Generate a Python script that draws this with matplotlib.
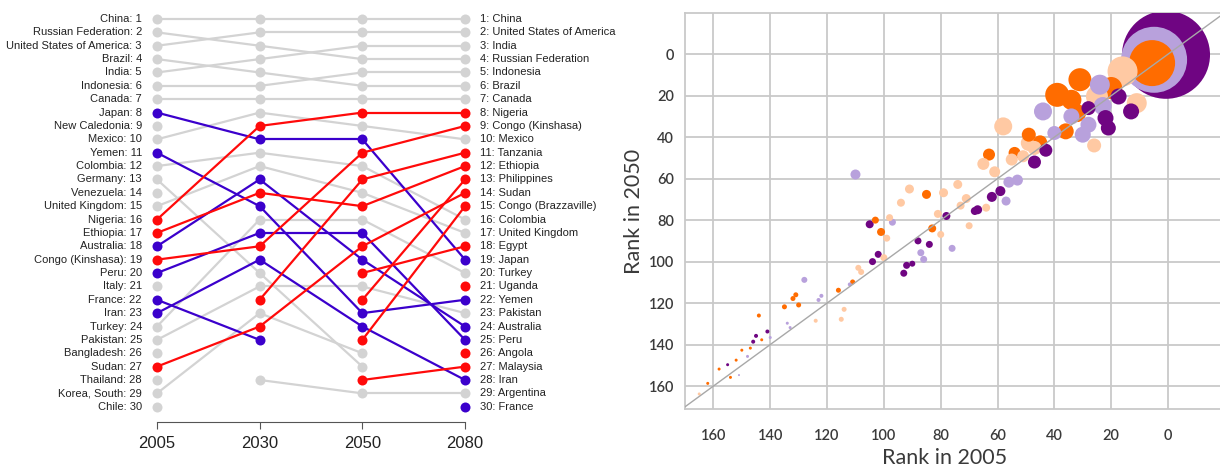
import numpy as np
import matplotlib
matplotlib.use("Agg")
import matplotlib.pyplot as plt

# ---------------- left panel data (bump chart) ----------------
years = ["2005", "2030", "2050", "2080"]

countries = [
    "China", "Russian Federation", "United States of America", "Brazil", "India",
    "Indonesia", "Canada", "Mexico", "Colombia", "United Kingdom", "Germany",
    "Turkey", "Pakistan", "Korea, South", "Argentina", "New Caledonia", "Venezuela",
    "Italy", "Bangladesh", "Thailand", "Chile",
    "Japan", "Yemen", "Australia", "Peru", "Iran", "France",
    "Nigeria", "Ethiopia", "Congo (Kinshasa)", "Sudan", "Tanzania", "Philippines",
    "Congo (Brazzaville)", "Egypt", "Malaysia", "Uganda", "Angola",
]
N = None
rank_2005 = [1, 2, 3, 4, 5, 6, 7, 10, 12, 15, 13, 24, 25, 29, N, 9, 14, 21, 26, 28, 30,
             8, 11, 18, 20, 23, 22, 16, 17, 19, 27, N, N, N, N, N, N, N]
rank_2030 = [1, 3, 2, 5, 4, 6, 7, 8, 11, 12, 20, 16, 21, 23, 28, N, N, N, N, N, N,
             10, 15, 13, 17, 19, 25, 9, 14, 18, 24, 22, N, N, N, N, N, N]
rank_2050 = [1, 4, 2, 6, 3, 5, 7, 9, 12, 14, 27, 16, 21, 26, 29, N, N, N, N, N, N,
             10, 23, 19, 17, 24, N, 8, 15, 11, 18, 13, 22, 25, 20, 28, N, N]
rank_2080 = [1, 4, 2, 6, 3, 5, 7, 10, 16, 17, N, 20, 23, N, 29, N, N, N, N, N, N,
             19, 22, 24, 25, 28, 30, 8, 12, 9, 14, 11, 13, 15, 18, 27, 21, 26]
trend = ["flat"] * 21 + ["down"] * 6 + ["up"] * 11

trend_colors = {"flat": "#d3d3d3", "down": "#3b00cc", "up": "#ff0a0a"}

# ---------------- right panel data (bubble scatter) ----------------
# (rank in 2005, rank in 2050, bubble value) per colour group
purple_2005 = [0.7, 17.4, 13, 28, 22, 21, 43, 47, 59, 62, 67, 68, 78, 105, 88, 84, 102, 104,
               92, 90, 93, 141, 145, 146, 155]
purple_2050 = [0.3, 20.4, 27.6, 26, 30.8, 35.6, 46.3, 52, 66, 68.8, 75, 75.6, 78, 82, 90,
               91.7, 96.5, 100, 101.8, 101, 105.6, 133.7, 135.8, 138.6, 149.7]
purple_val = [88, 16, 16, 14, 16, 15, 13, 13, 10, 10, 9, 8, 8, 8, 7, 7, 7, 7, 7, 6, 7, 4, 4, 4, 3]

lilac_2005 = [4.9, 24, 23, 34, 28, 44, 40, 30, 56, 53, 57, 110, 97, 87, 86, 76, 128, 112,
              122, 123, 134, 133, 140, 148, 151]
lilac_2050 = [2.7, 14.7, 25, 30, 34, 27.6, 38, 38.8, 61.7, 60.7, 70.8, 58, 81, 95.7, 98.9,
              93.6, 108.8, 111, 116.5, 118.5, 129.7, 131.8, 136.6, 145.7, 154.7]
lilac_val = [66, 20, 18, 16, 16, 18, 14, 16, 11, 11, 9, 10, 7, 7, 7, 7, 6, 4, 4, 4, 3, 3, 3, 3, 2]

orange_2005 = [5.6, 31, 20, 39, 34, 32, 36, 49, 45, 54, 63, 85, 103, 101, 83, 111, 116, 131,
               132, 130, 135, 144, 143, 147, 150, 152, 154, 158, 162]
orange_2050 = [4.3, 12.3, 16.3, 19.6, 22, 28.4, 37.2, 38.8, 42.5, 47.6, 48.4, 67.6, 80, 85.7,
               84, 109.8, 113.8, 116, 117.8, 120.9, 121.8, 126, 137.7, 141.7, 142.7, 147.5,
               155.8, 151.8, 158.7]
orange_val = [46, 23, 22, 24, 20, 18, 16, 14, 14, 12, 12, 9, 7, 8, 8, 5, 5, 5, 5, 5, 5, 4,
              3, 3, 3, 3, 3, 3, 3]

peach_2005 = [16, 25, 11, 58, 26, 49, 47, 55, 51, 65, 61, 91, 79, 74, 94, 71, 73, 64, 81, 70,
              98, 80, 99, 100, 109, 108, 114, 115, 124, 165]
peach_2050 = [8.3, 20.4, 23.6, 34.8, 44, 42.8, 45.2, 50.8, 49.2, 52.9, 56.7, 65, 66.8, 62.8,
              71.6, 69.6, 73, 74, 77, 82.7, 78.8, 86.9, 88.7, 98.1, 103, 105, 123, 127.8,
              128.5, 163.8]
peach_val = [30, 22, 20, 18, 14, 16, 14, 12, 12, 12, 11, 9, 9, 9, 8, 9, 8, 8, 8, 7, 7, 7, 7,
             7, 6, 6, 5, 5, 4, 3]

W, H = 1220, 469
fig = plt.figure(figsize=(W / 100, H / 100), dpi=100)

# ================= left: bump chart =================
ax1 = fig.add_axes([147 / W, 1 - 421.7 / H, 328 / W, 411.7 / H])
ax1.set_xlim(-0.097, 3.097)
ax1.set_ylim(31.12, 0.327)

all_ranks = [rank_2005, rank_2030, rank_2050, rank_2080]
for layer in ["flat", "down", "up"]:
    z = 2 if layer == "flat" else 3
    for i, name in enumerate(countries):
        if trend[i] != layer:
            continue
        col = trend_colors[layer]
        r = [all_ranks[k][i] for k in range(4)]
        for k in range(3):
            if r[k] is not None and r[k + 1] is not None:
                ax1.plot([k, k + 1], [r[k], r[k + 1]], color=col, lw=1.6,
                         zorder=z, solid_capstyle="round")
        for k in range(4):
            if r[k] is not None:
                ax1.plot(k, r[k], "o", color=col, ms=7.2, mec="none", zorder=z + 0.5)

lab_font = dict(family=["Liberation Sans", "DejaVu Sans"], fontsize=8, color="#222222")
for i, name in enumerate(countries):
    if rank_2005[i] is not None:
        ax1.text(-0.146, rank_2005[i], f"{name}: {rank_2005[i]}", ha="right", va="center",
                 clip_on=False, **lab_font)
    if rank_2080[i] is not None:
        ax1.text(3.146, rank_2080[i], f"{rank_2080[i]}: {name}", ha="left", va="center",
                 clip_on=False, **lab_font)

for s in ["top", "right", "left"]:
    ax1.spines[s].set_visible(False)
ax1.spines["bottom"].set_bounds(0, 3)
ax1.spines["bottom"].set_color("#555555")
ax1.set_yticks([])
ax1.set_xticks(range(4))
ax1.set_xticklabels(years, family=["Liberation Sans", "DejaVu Sans"], fontsize=12,
                    color="#222222")
ax1.tick_params(axis="x", length=5, color="#555555", pad=5)

# ================= right: bubble scatter =================
left_px = 685
ax2 = fig.add_axes([left_px / W, 1 - 409.3 / H, (W - left_px) / W, (409.3 - 12.7) / H])
groups = [
    (purple_2005, purple_2050, purple_val, "#6f0582"),
    (lilac_2005, lilac_2050, lilac_val, "#b8a1dc"),
    (orange_2005, orange_2050, orange_val, "#ff6c00"),
    (peach_2005, peach_2050, peach_val, "#ffc9a3"),
]
xs, ys, vs, cs = [], [], [], []
for gx, gy, gv, gc in groups:
    xs += gx
    ys += gy
    vs += gv
    cs += [gc] * len(gx)
order = np.argsort(-np.array(vs), kind="stable")
xs = np.array(xs)[order]
ys = np.array(ys)[order]
vs = np.array(vs)[order]
cs = np.array(cs)[order]
ax2.scatter(xs, ys, s=(vs * 0.72) ** 2, c=cs, linewidths=0, zorder=3)
ax2.plot([-30, 190], [-30, 190], color="#a8a8a8", lw=1, zorder=4)

ax2.set_xlim(170, -18.3)
ax2.set_ylim(171.2, -20)
ticks = list(range(0, 161, 20))
ax2.set_xticks(ticks)
ax2.set_yticks(ticks)
ax2.grid(True, color="#c9c9c9", lw=1.3, zorder=0)
ax2.set_axisbelow(True)
ax2.tick_params(length=0, labelsize=10.5, labelcolor="#3a3a3a")
ax2.tick_params(axis="y", pad=8)
ax2.tick_params(axis="x", pad=14)
for lbl in ax2.get_xticklabels() + ax2.get_yticklabels():
    lbl.set_family(["Lato", "DejaVu Sans"])
    lbl.set_fontweight("semibold")
for s in ["top", "left", "bottom"]:
    ax2.spines[s].set_color("#c9c9c9")
    ax2.spines[s].set_linewidth(1.3)
ax2.spines["right"].set_visible(False)

ax2.set_xlabel("Rank in 2005", family=["Lato", "DejaVu Sans"], fontsize=15.5, color="#3a3a3a")
ax2.set_ylabel("Rank in 2050", family=["Lato", "DejaVu Sans"], fontsize=15.5, color="#3a3a3a")
ax2.xaxis.set_label_coords((945 - left_px) / (W - left_px), -0.123)
ax2.yaxis.set_label_coords((634 - left_px) / (W - left_px), 0.5)
ax2.xaxis.label.set_va("center")
ax2.yaxis.label.set_va("center")

fig.savefig("out.png", dpi=100)
